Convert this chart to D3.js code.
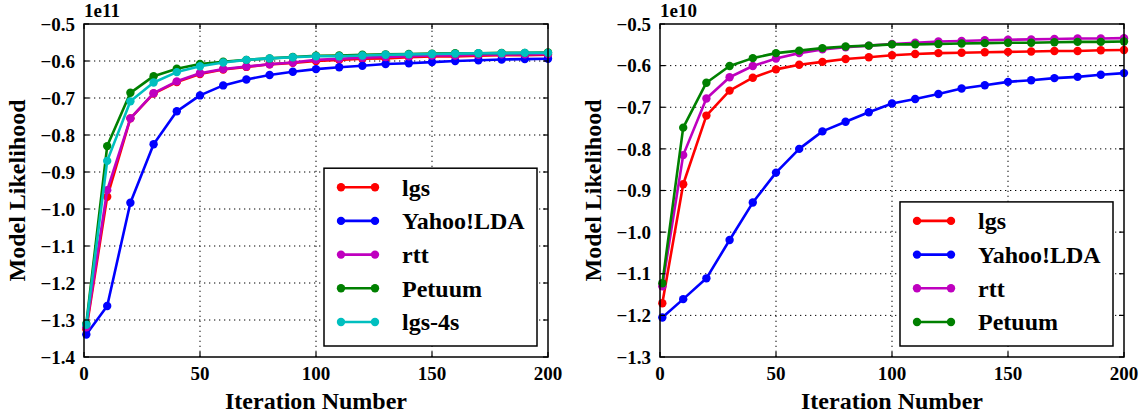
<!DOCTYPE html>
<html>
<head>
<meta charset="utf-8">
<script src="https://cdn.jsdelivr.net/npm/d3@7"></script>
<style>
  body { margin: 0; background: #fff; }
  svg text { font-family: 'Liberation Serif', 'Times New Roman', serif; font-weight: bold; }
</style>
</head>
<body>
<script>
// iterations sampled on the x axis
const iters = [1, 10, 20, 30, 40, 50, 60, 70, 80, 90, 100, 110, 120, 130, 140, 150, 160, 170, 180, 190, 200];

// left panel, values in units of 1e11
const leftLgs    = [-1.325, -0.967, -0.755, -0.688, -0.657, -0.635, -0.623, -0.616, -0.609, -0.605, -0.600, -0.597, -0.594, -0.593, -0.590, -0.588, -0.588, -0.586, -0.584, -0.584, -0.583];
const leftYahoo  = [-1.339, -1.262, -0.983, -0.825, -0.736, -0.693, -0.666, -0.650, -0.638, -0.629, -0.622, -0.617, -0.613, -0.608, -0.606, -0.603, -0.600, -0.598, -0.596, -0.595, -0.594];
const leftRtt    = [-1.320, -0.949, -0.755, -0.687, -0.655, -0.633, -0.622, -0.615, -0.609, -0.604, -0.597, -0.594, -0.591, -0.589, -0.587, -0.585, -0.585, -0.583, -0.582, -0.582, -0.581];
const leftPetuum = [-1.310, -0.830, -0.686, -0.641, -0.621, -0.608, -0.602, -0.597, -0.593, -0.589, -0.586, -0.585, -0.583, -0.582, -0.581, -0.580, -0.579, -0.579, -0.578, -0.578, -0.577];
const leftLgs4s  = [-1.313, -0.870, -0.709, -0.658, -0.630, -0.614, -0.604, -0.597, -0.593, -0.590, -0.587, -0.587, -0.585, -0.583, -0.582, -0.581, -0.580, -0.579, -0.579, -0.578, -0.578];

// right panel, values in units of 1e10
const rightLgs    = [-1.171, -0.885, -0.720, -0.660, -0.629, -0.609, -0.598, -0.591, -0.584, -0.580, -0.575, -0.572, -0.570, -0.569, -0.568, -0.567, -0.566, -0.565, -0.565, -0.563, -0.5625];
const rightYahoo  = [-1.205, -1.161, -1.111, -1.019, -0.929, -0.857, -0.800, -0.758, -0.735, -0.712, -0.691, -0.680, -0.668, -0.655, -0.647, -0.639, -0.635, -0.630, -0.627, -0.622, -0.618];
const rightRtt    = [-1.130, -0.815, -0.679, -0.628, -0.601, -0.583, -0.570, -0.561, -0.556, -0.552, -0.548, -0.545, -0.542, -0.541, -0.539, -0.538, -0.537, -0.536, -0.535, -0.535, -0.534];
const rightPetuum = [-1.123, -0.749, -0.641, -0.601, -0.582, -0.570, -0.564, -0.558, -0.554, -0.552, -0.549, -0.549, -0.548, -0.547, -0.546, -0.545, -0.545, -0.544, -0.543, -0.543, -0.542];

const xTicks = [0, 50, 100, 150, 200];
const leftYTicks = [-1.4, -1.3, -1.2, -1.1, -1.0, -0.9, -0.8, -0.7, -0.6, -0.5];
const rightYTicks = [-1.3, -1.2, -1.1, -1.0, -0.9, -0.8, -0.7, -0.6, -0.5];

const width = 1147, height = 417;

const svg = d3.select('body').append('svg')
    .attr('width', width)
    .attr('height', height)
    .style('display', 'block');

function label(g, size) {
  return g.append('text').attr('font-size', size);
}

function panel(opts) {
  const x = d3.scaleLinear().domain([0, 200]).range([opts.left, opts.right]);
  const y = d3.scaleLinear().domain(opts.yDomain).range([357, 24]);
  const g = svg.append('g');

  // dotted grid
  g.selectAll('.gx').data(xTicks.slice(1, -1)).enter().append('line')
      .attr('x1', d => x(d)).attr('x2', d => x(d))
      .attr('y1', y.range()[0]).attr('y2', y.range()[1])
      .attr('stroke', '#000').attr('stroke-width', 1).attr('stroke-dasharray', '1.3,3.7');
  g.selectAll('.gy').data(opts.yTicks.slice(1, -1)).enter().append('line')
      .attr('y1', d => y(d)).attr('y2', d => y(d))
      .attr('x1', opts.left).attr('x2', opts.right)
      .attr('stroke', '#000').attr('stroke-width', 1).attr('stroke-dasharray', '1.3,3.7');

  // series
  const line = d3.line().x((d, i) => x(iters[i])).y(d => y(d));
  opts.series.forEach(s => {
    g.append('path')
        .attr('d', line(s.values))
        .attr('fill', 'none')
        .attr('stroke', s.color)
        .attr('stroke-width', 2.6)
        .attr('stroke-linejoin', 'round');
    g.selectAll(null).data(s.values).enter().append('circle')
        .attr('cx', (d, i) => x(iters[i]))
        .attr('cy', d => y(d))
        .attr('r', 4.2)
        .attr('fill', s.color);
  });

  // inward ticks on all sides
  const tl = 5;
  xTicks.forEach(t => {
    g.append('line').attr('x1', x(t)).attr('x2', x(t)).attr('y1', 357).attr('y2', 357 - tl)
        .attr('stroke', '#000').attr('stroke-width', 1.2);
    g.append('line').attr('x1', x(t)).attr('x2', x(t)).attr('y1', 24).attr('y2', 24 + tl)
        .attr('stroke', '#000').attr('stroke-width', 1.2);
  });
  opts.yTicks.forEach(t => {
    g.append('line').attr('y1', y(t)).attr('y2', y(t)).attr('x1', opts.left).attr('x2', opts.left + tl)
        .attr('stroke', '#000').attr('stroke-width', 1.2);
    g.append('line').attr('y1', y(t)).attr('y2', y(t)).attr('x1', opts.right).attr('x2', opts.right - tl)
        .attr('stroke', '#000').attr('stroke-width', 1.2);
  });

  // frame
  g.append('rect')
      .attr('x', opts.left).attr('y', 24)
      .attr('width', opts.right - opts.left).attr('height', 333)
      .attr('fill', 'none').attr('stroke', '#000').attr('stroke-width', 1.5);

  // tick labels
  const fmt = d3.format('.1f');
  xTicks.forEach(t => {
    label(g, 19).attr('x', x(t)).attr('y', 380).attr('text-anchor', 'middle').text(t);
  });
  opts.yTicks.forEach(t => {
    label(g, 19).attr('x', opts.left - 9).attr('y', y(t)).attr('dy', '0.35em')
        .attr('text-anchor', 'end').text(fmt(t));
  });

  // offset text
  label(g, 19).attr('x', opts.left).attr('y', 17).text(opts.offset);

  // axis titles
  label(g, 24).attr('x', (opts.left + opts.right) / 2).attr('y', 409)
      .attr('text-anchor', 'middle').text('Iteration Number');
  label(g, 24).attr('transform', `translate(${opts.ylabelX}, 190.5) rotate(-90)`)
      .attr('text-anchor', 'middle').text('Model Likelihood');

  // legend
  const n = opts.series.length;
  const rowH = 33.7;
  const lb = opts.legend;
  const top = lb.bottom - 24 - (n - 1) * rowH - 19;
  g.append('rect')
      .attr('x', lb.left).attr('y', top)
      .attr('width', lb.right - lb.left).attr('height', lb.bottom - top)
      .attr('fill', '#fff').attr('stroke', '#000').attr('stroke-width', 1.5);
  opts.series.forEach((s, i) => {
    const cy = lb.bottom - 24 - (n - 1 - i) * rowH;
    g.append('line')
        .attr('x1', lb.left + 17).attr('x2', lb.left + 51)
        .attr('y1', cy).attr('y2', cy)
        .attr('stroke', s.color).attr('stroke-width', 2.6);
    [17, 51].forEach(dx => g.append('circle')
        .attr('cx', lb.left + dx).attr('cy', cy).attr('r', 4.2).attr('fill', s.color));
    label(g, 24).attr('x', lb.left + 78).attr('y', cy).attr('dy', '0.35em').text(s.name);
  });
}

panel({
  left: 84, right: 548, yDomain: [-1.4, -0.5], yTicks: leftYTicks,
  offset: '1e11', ylabelX: 25,
  legend: { left: 324, right: 537, bottom: 346 },
  series: [
    { name: 'lgs', color: '#ff0000', values: leftLgs },
    { name: 'Yahoo!LDA', color: '#0000ff', values: leftYahoo },
    { name: 'rtt', color: '#bf00bf', values: leftRtt },
    { name: 'Petuum', color: '#008000', values: leftPetuum },
    { name: 'lgs-4s', color: '#00bfbf', values: leftLgs4s }
  ]
});

panel({
  left: 660, right: 1124, yDomain: [-1.3, -0.5], yTicks: rightYTicks,
  offset: '1e10', ylabelX: 601,
  legend: { left: 900, right: 1113, bottom: 346 },
  series: [
    { name: 'lgs', color: '#ff0000', values: rightLgs },
    { name: 'Yahoo!LDA', color: '#0000ff', values: rightYahoo },
    { name: 'rtt', color: '#bf00bf', values: rightRtt },
    { name: 'Petuum', color: '#008000', values: rightPetuum }
  ]
});
</script>
</body>
</html>
